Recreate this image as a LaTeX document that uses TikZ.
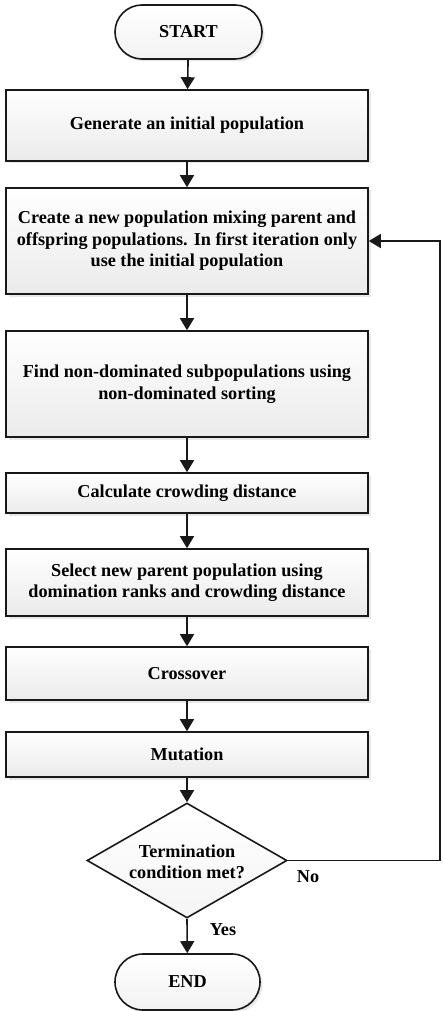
\documentclass[tikz,border=0pt]{standalone}
\usepackage{fontspec}
\setmainfont{Liberation Serif}
\usetikzlibrary{arrows.meta,shapes.geometric,shapes.misc,shadows}

\begin{document}
\begin{tikzpicture}[x=1pt,y=-1pt,
  font=\bfseries\fontsize{18.2}{21.5}\selectfont,
  shell/.style={draw=black!90, line width=1.6pt, shading=axis,
    top color=white, bottom color=black!8, inner sep=0pt, align=center,
    drop shadow={opacity=0.3, shadow xshift=2.5pt, shadow yshift=-2.5pt, fill=black!30}},
  box/.style={shell, rectangle, minimum width=362pt},
  term/.style={shell, rounded rectangle, bottom color=black!5},
  decision/.style={draw=black!90, line width=1.6pt, diamond, inner sep=0pt,
    shading=axis, top color=white, bottom color=black!4,
    minimum width=200pt, minimum height=115pt},
  flow/.style={line width=1.6pt, draw=black!90, -{Triangle[length=12pt,width=14pt]}},
  tag/.style={inner sep=0pt}
]
\useasboundingbox (0,0) rectangle (442,1011);

% terminals
\node[term, minimum width=147pt, minimum height=54pt] (start) at (188.5,32) {START};
\node[term, minimum width=145pt, minimum height=56pt] (end) at (187.5,982) {END};

% process steps
\node[box, minimum height=71pt]  (b1) at (187,125.5) {Generate an initial population};
\node[box, minimum height=106pt] (b2) at (187,241)
  {Create a new population mixing parent and\\offspring populations. In first iteration only\\use the initial population};
\node[box, minimum height=106pt] (b3) at (187,384)
  {Find non-dominated subpopulations using\\non-dominated sorting};
\node[box, minimum height=40pt]  (b4) at (187,493) {Calculate crowding distance};
\node[box, minimum height=67pt]  (b5) at (187,582.5)
  {Select new parent population using\\domination ranks and crowding distance};
\node[box, minimum height=53pt]  (b6) at (187,673.5) {Crossover};
\node[box, minimum height=45pt]  (b7) at (187,754.5) {Mutation};

% decision
\node[decision] (dec) at (187,860.5) {};
\node[align=center, inner sep=0pt] (dectext) at (187,862) {Termination\\condition met?};

% loop-back corner
\coordinate (loop) at (440,860.5);

% connectors
\draw[flow] (start) -- (b1);
\draw[flow] (b1) -- (b2);
\draw[flow] (b2) -- (b3);
\draw[flow] (b3) -- (b4);
\draw[flow] (b4) -- (b5);
\draw[flow] (b5) -- (b6);
\draw[flow] (b6) -- (b7);
\draw[flow] (b7) -- (dec.north);
\draw[flow] (dec.south) -- (end);
\draw[flow] (dec.east) -- (loop) |- (b2.east);

% branch labels
\node[tag] (no) at (308,877) {No};
\node[tag] (yes) at (223,930) {Yes};
\end{tikzpicture}
\end{document}
